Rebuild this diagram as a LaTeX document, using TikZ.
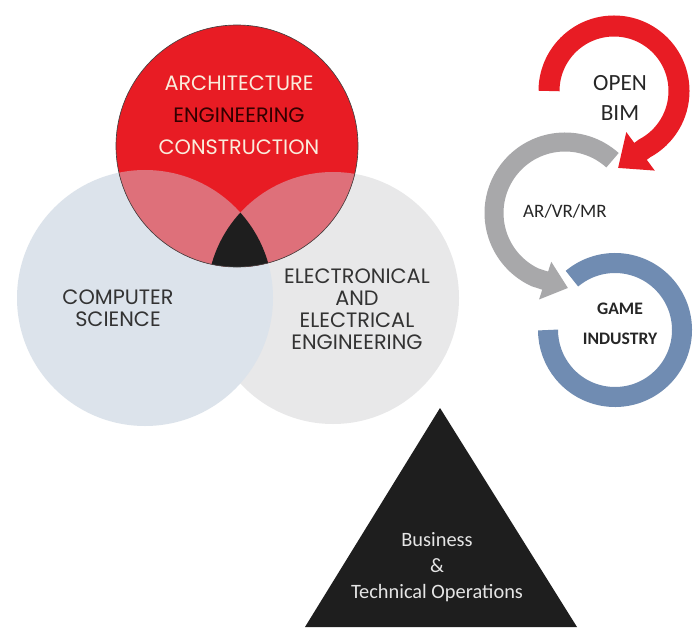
\documentclass[tikz,border=0pt]{standalone}
\usepackage{fontspec}
\usepackage{tikz}
\usetikzlibrary{arrows.meta}
\setmainfont{Carlito}
\newfontfamily\gothic{Poppins}
\definecolor{aecred}{RGB}{232,28,36}
\definecolor{mixpink}{RGB}{222,112,122}
\definecolor{csblue}{RGB}{220,227,235}
\definecolor{eegray}{RGB}{232,232,233}
\definecolor{ringgray}{RGB}{168,168,170}
\definecolor{ringblue}{RGB}{112,140,178}
\definecolor{opsblack}{RGB}{30,30,30}
\definecolor{cream}{RGB}{250,236,220}

\begin{document}
\begin{tikzpicture}
  [x=0.025cm,y=0.025cm,every node/.style={inner sep=0pt,align=center},
   venntext/.style={font=\gothic\fontsize{14.8}{15.6}\selectfont,text=black!80},
   ringtext/.style={font=\fontsize{16.5}{21}\selectfont,text=black!85}]

  \useasboundingbox[fill=white] (0,0) rectangle (696,627);

  % venn centres
  \coordinate (csC) at (145,329);
  \coordinate (eeC) at (333,329);
  \coordinate (aecC) at (237,481);
  \fill[eegray] (eeC) circle (126);
  \fill[csblue] (csC) circle (128);
  \fill[aecred] (aecC) circle (121);
  \begin{scope}
    \clip (aecC) circle (121);
    \foreach \c/\r in {csC/128,eeC/126}
      \fill[mixpink] (\c) circle (\r);
    \clip (csC) circle (128);
    \fill[opsblack] (eeC) circle (126);
  \end{scope}
  \draw[black!75,line width=0.45pt] (aecC) circle (121);

  % ring arrows
  \coordinate (bimC) at (614,536);
  \coordinate (bimtip) at (618,459);
  \coordinate (arvrC) at (565,414);
  \coordinate (arvrtip) at (568,339);
  \coordinate (gameC) at (615,297);
  \draw[aecred,line width=0.525cm,-{Triangle[length=0.7cm,width=1.15cm]}]
    ([shift={(180:65)}]bimC) arc (180:-62:65) -- (bimtip);
  \draw[ringgray,line width=0.475cm,-{Triangle[length=0.6cm,width=0.95cm]}]
    ([shift={(48:71)}]arvrC) arc (48:245:71) -- (arvrtip);
  \draw[ringblue,line width=0.5cm] ([shift={(130:67)}]gameC) arc (130:-180:67);

  % bottom triangle
  \fill[opsblack] (305,0) -- (440,219) -- (577,0) -- cycle;

  \node[font=\gothic\fontsize{14.8}{22.8}\selectfont] (aec) at (239,512)
    {\textcolor{cream}{ARCHITECTURE}\\ \textcolor{black!80!red}{ENGINEERING}\\ \textcolor{cream}{CONSTRUCTION}};
  \node[venntext] (cs) at (118,319) {COMPUTER\\ SCIENCE};
  \node[venntext] (ee) at (357,318) {ELECTRONICAL\\ AND\\ ELECTRICAL\\ ENGINEERING};
  \node[ringtext] (bim) at (620,529) {OPEN\\ BIM};
  \node[ringtext,font=\fontsize{13.5}{16}\selectfont] (arvr) at (565,416) {AR/VR/MR};
  \node[ringtext,font=\bfseries\fontsize{12.5}{21}\selectfont] (game) at (620,303) {GAME\\ INDUSTRY};
  \node[text=black!10,font=\fontsize{14.5}{18.5}\selectfont] (ops) at (437,60) {Business\\ \&\\ Technical Operations};
\end{tikzpicture}
\end{document}
